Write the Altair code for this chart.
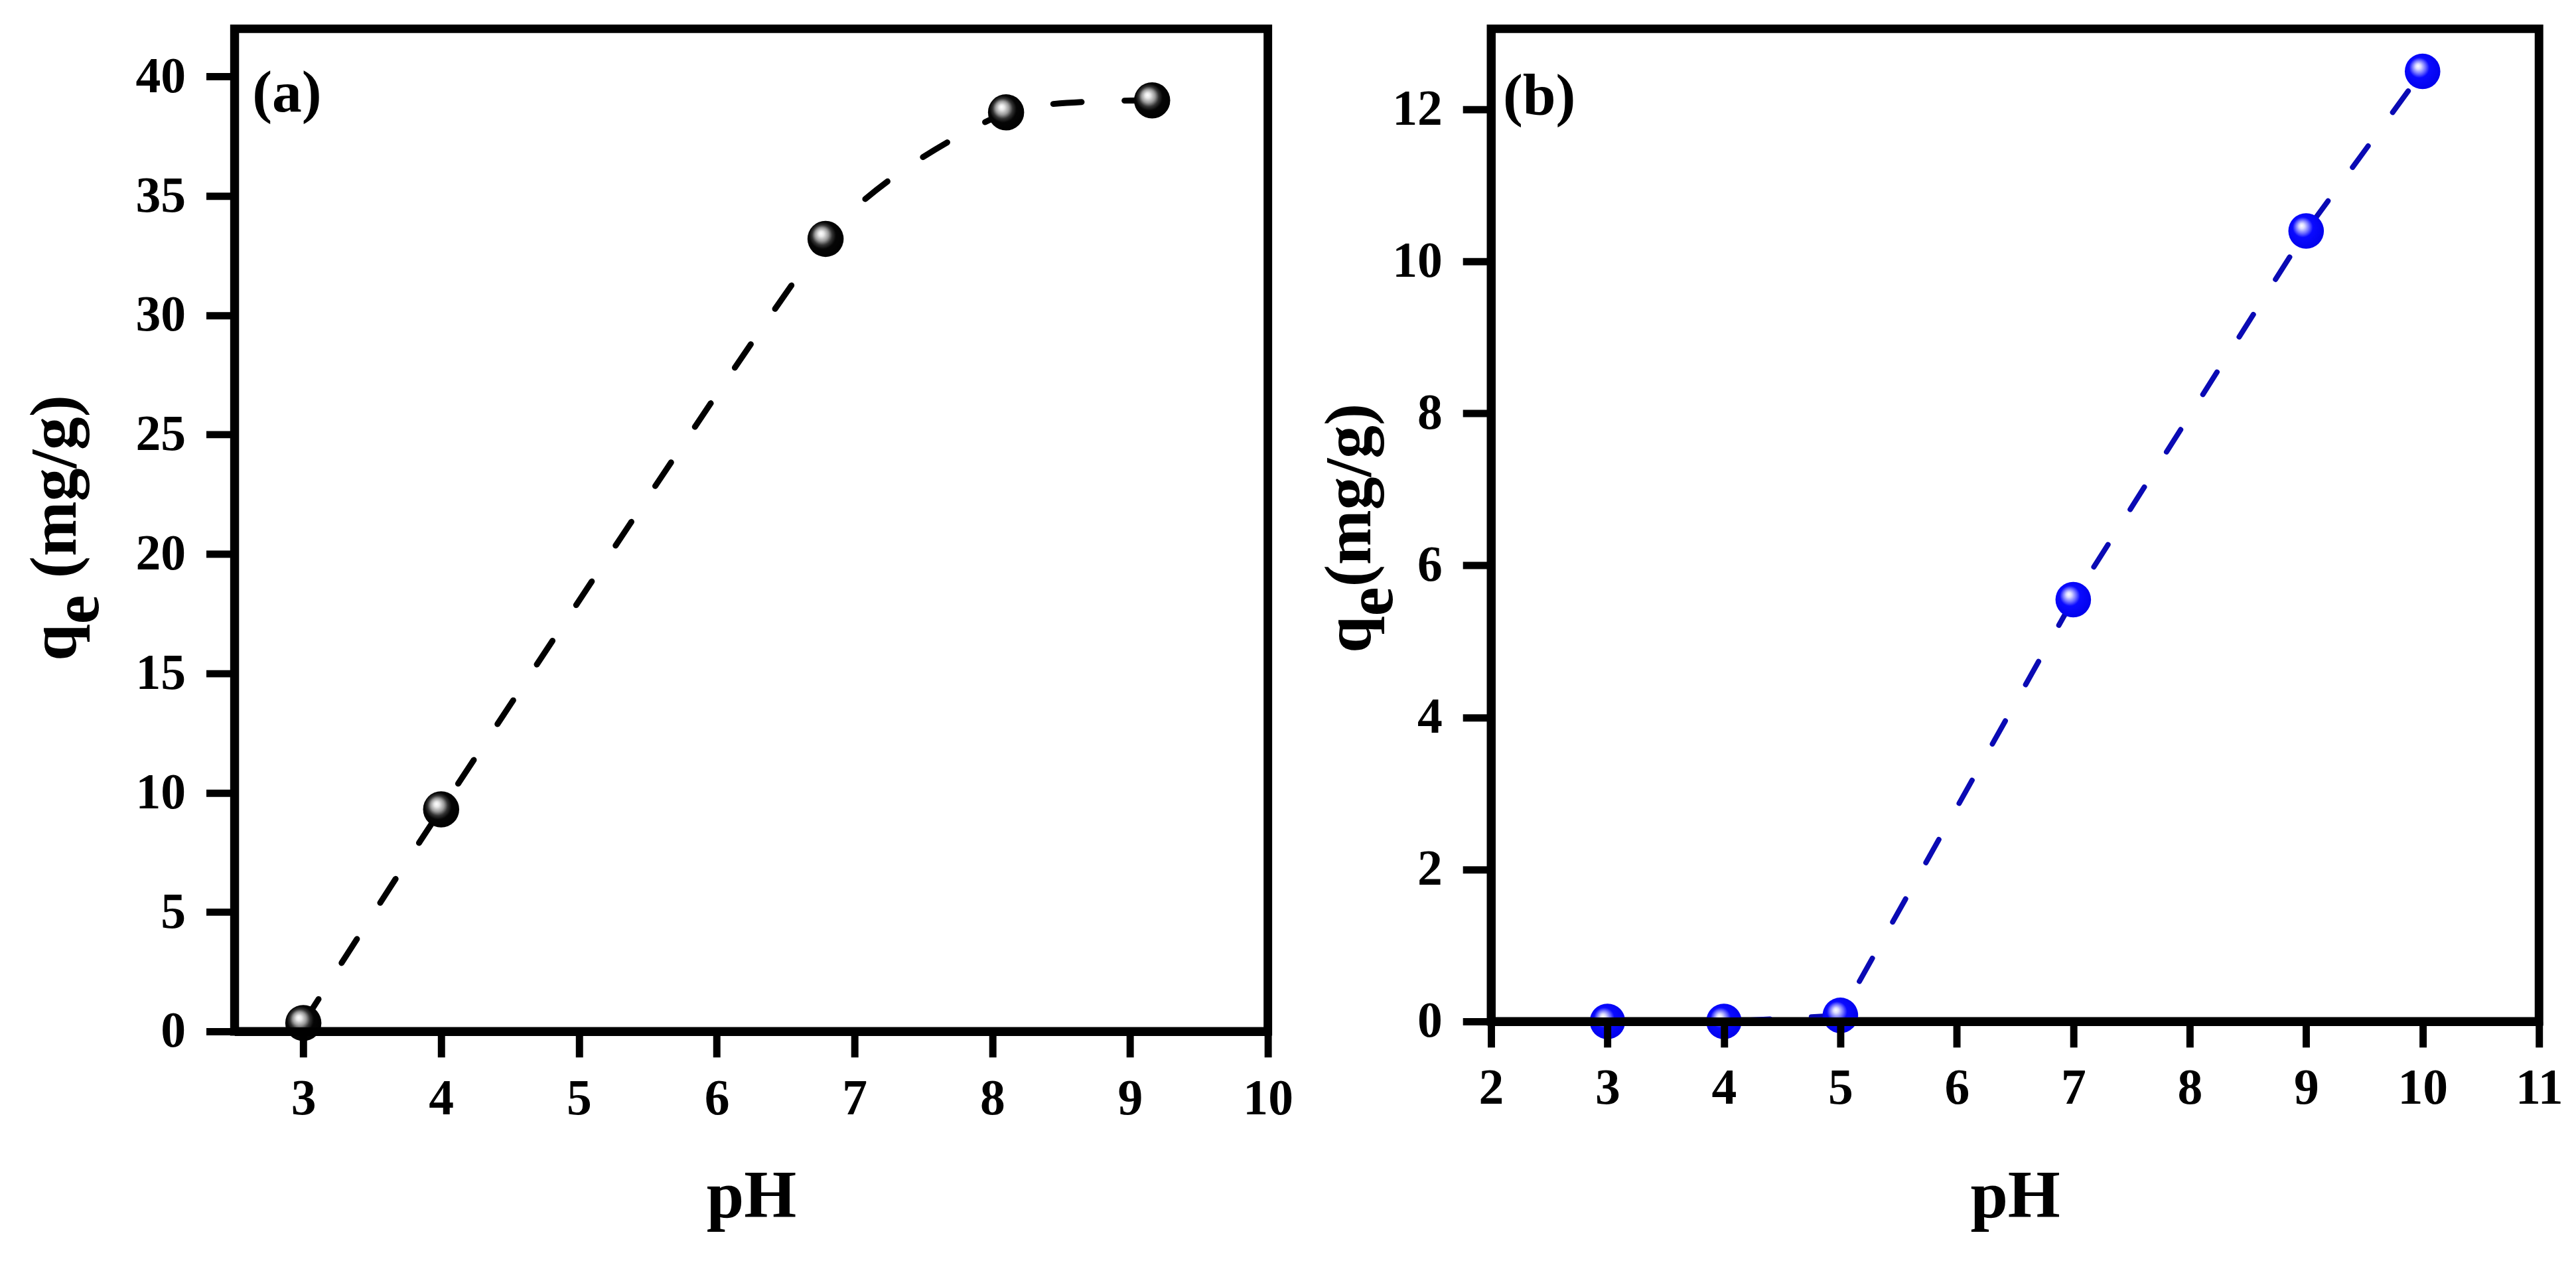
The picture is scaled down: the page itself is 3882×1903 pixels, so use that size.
import altair as alt
import pandas as pd

# ---------------- data ----------------
ph_a = [3, 4, 6.79, 8.1, 9.16]
qe_a = [0.35, 9.3, 33.2, 38.5, 39.0]

ph_b = [3, 4, 5, 7, 9, 10]
qe_b = [0.0, 0.0, 0.08, 5.55, 10.4, 12.5]

xticks_a = [3, 4, 5, 6, 7, 8, 9, 10]
yticks_a = [0, 5, 10, 15, 20, 25, 30, 35, 40]
xticks_b = [2, 3, 4, 5, 6, 7, 8, 9, 10, 11]
yticks_b = [0, 2, 4, 6, 8, 10, 12]

label_a = ["(a)"]
label_b = ["(b)"]
ytitle_q = ["q"]
ytitle_e = ["e"]
ytitle_rest_a = ["(mg/g)"]
ytitle_rest_b = ["(mg/g)"]
xtitle = "pH"

FONT = "Liberation Serif"
LFS = 76   # tick label size
FS = 100   # y title size


def sphere(stops):
    return {
        "gradient": "radial",
        "x1": 0.37, "y1": 0.35, "r1": 0.0,
        "x2": 0.45, "y2": 0.45, "r2": 0.62,
        "stops": [{"offset": o, "color": c} for o, c in stops],
    }


black_sphere = sphere([(0, "#ffffff"), (0.12, "#e8e8e8"), (0.3, "#9a9a9a"),
                       (0.45, "#333333"), (0.6, "#050505"), (1, "#000000")])
blue_sphere = sphere([(0, "#ffffff"), (0.12, "#dcdcff"), (0.3, "#7070ff"),
                      (0.46, "#0a0aff"), (1, "#0000e8")])


def xaxis(values, label_pad, title_pad):
    return alt.Axis(values=values, title=xtitle, tickSize=39, tickWidth=11,
                    tickColor="black", domain=True, domainWidth=13,
                    domainColor="black", zindex=1, grid=False,
                    labelFont=FONT, labelFontSize=LFS, labelFontWeight="bold",
                    labelColor="black", labelPadding=label_pad,
                    titleFont=FONT, titleFontSize=102, titleFontWeight="bold",
                    titleColor="black", titlePadding=title_pad,
                    labelFlush=False, labelOverlap=False)


def yaxis(values):
    return alt.Axis(values=values, title=None, tickSize=43, tickWidth=11,
                    tickColor="black", domain=True, domainWidth=13,
                    domainColor="black", zindex=1, grid=False,
                    labelFont=FONT, labelFontSize=LFS, labelFontWeight="bold",
                    labelColor="black", labelPadding=31,
                    labelFlush=False, labelOverlap=False)


def text_layer(txt, x, y, size, angle=0, dx=0, dy=0):
    kw = dict(align="left", baseline="alphabetic", font=FONT,
              fontSize=size, fontWeight="bold", color="black")
    if angle:
        kw["angle"] = angle
    if dx:
        kw["dx"] = dx
    if dy:
        kw["dy"] = dy
    return alt.Chart(pd.DataFrame({"t": txt})).mark_text(**kw).encode(
        text="t:N", x=alt.value(x), y=alt.value(y))


# ---------------- panel (a) ----------------
df_a = pd.DataFrame({"pH": ph_a, "qe": qe_a})
xa = alt.X("pH:Q", scale=alt.Scale(domain=[2.5, 10], nice=False, zero=False),
           axis=xaxis(xticks_a, 26, 60))
ya = alt.Y("qe:Q", scale=alt.Scale(domain=[0, 42], nice=False),
           axis=yaxis(yticks_a))

line_a = alt.Chart(df_a).mark_line(
    interpolate="cardinal", tension=0.45, color="black", strokeWidth=9,
    strokeDash=[43, 65], strokeCap="round").encode(x=xa, y=ya)
pts_a = alt.Chart(df_a).mark_point(
    filled=True, shape="circle", size=3000, fill=black_sphere,
    opacity=1, strokeWidth=0).encode(x=xa, y=ya)

chart_a = alt.layer(
    line_a, pts_a,
    text_layer(label_a, 27, 125, 90),
    text_layer(ytitle_q, -240, 957, FS, angle=270),
    text_layer(ytitle_e, -240, 957, FS, angle=270, dx=0.556 * FS, dy=34),
    text_layer(ytitle_rest_a, -240, 957, FS, angle=270, dx=1.25 * FS),
).properties(width=1565, height=1518)

# ---------------- panel (b) ----------------
df_b = pd.DataFrame({"pH": ph_b, "qe": qe_b})
xb = alt.X("pH:Q", scale=alt.Scale(domain=[2, 11], nice=False, zero=False),
           axis=xaxis(xticks_b, 25, 76))
yb = alt.Y("qe:Q", scale=alt.Scale(domain=[0, 13.06], nice=False),
           axis=yaxis(yticks_b))

line_b = alt.Chart(df_b).mark_line(
    color="#0a0ab4", strokeWidth=8, strokeDash=[40, 63],
    strokeCap="round").encode(x=xb, y=yb)
pts_b = alt.Chart(df_b).mark_point(
    filled=True, shape="circle", size=2900, fill=blue_sphere,
    opacity=1, strokeWidth=0).encode(x=xb, y=yb)

chart_b = alt.layer(
    line_b, pts_b,
    text_layer(label_b, 18, 130, 90),
    text_layer(ytitle_q, -183, 945, FS, angle=270),
    text_layer(ytitle_e, -183, 945, FS, angle=270, dx=0.556 * FS, dy=33),
    text_layer(ytitle_rest_b, -183, 945, FS, angle=270, dx=1.0 * FS),
).properties(width=1587, height=1503)

chart = alt.hconcat(chart_a, chart_b, spacing=23).properties(
    padding={"left": 20, "top": 24, "right": 5, "bottom": 5},
    background="white",
).configure_view(stroke="black", strokeWidth=13)

chart.save("out.html", embed_options={"renderer": "svg", "actions": False})
